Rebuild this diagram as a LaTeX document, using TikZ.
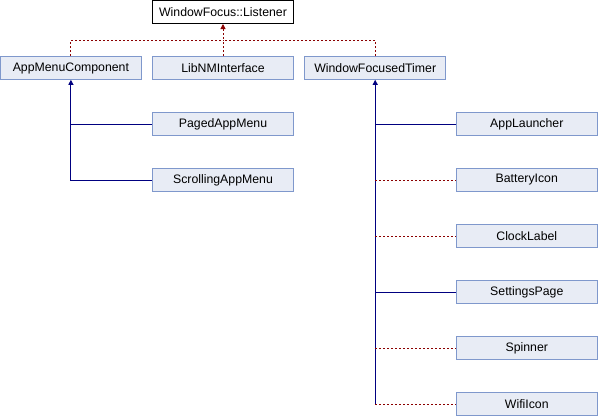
\documentclass[tikz,border=0pt]{standalone}
\usepackage{fontspec}
\setmainfont{Liberation Sans}
\usetikzlibrary{arrows.meta}
\definecolor{boxfill}{HTML}{E8ECF5}
\definecolor{boxline}{HTML}{7F98CC}
\definecolor{pubcol}{HTML}{000080}
\definecolor{privcol}{HTML}{8B0000}
\tikzset{
  cls/.style={draw=boxline, fill=boxfill, line width=1pt, minimum width=141.4pt, minimum height=22.6pt, inner sep=0pt, font=\fontsize{12.3}{14}\selectfont},
  rootcls/.style={cls, draw=black, fill=white},
  pub/.style={draw=pubcol, line width=1pt},
  priv/.style={draw=privcol, line width=1pt, dash pattern=on 2pt off 2pt},
  pubtip/.style={{Triangle[width=5pt,length=5pt,fill=pubcol]}-},
  privtip/.style={{Triangle[width=5pt,length=5pt,fill=privcol]}-}
}
\begin{document}
\begin{tikzpicture}[x=1pt,y=-1pt]
\useasboundingbox (0,0) rectangle (598,416);
\node[rootcls] (L) at (223,12.2) {WindowFocus::Listener};
\node[cls] (amc) at (70.9,68) {AppMenuComponent};
\node[cls] (lni) at (223,68) {LibNMInterface};
\node[cls] (wft) at (375.2,68) {WindowFocusedTimer};
\node[cls] (pam) at (223,124) {PagedAppMenu};
\node[cls] (sam) at (223,180) {ScrollingAppMenu};
\node[cls] (al) at (526.8,124) {AppLauncher};
\node[cls] (bi) at (526.8,180) {BatteryIcon};
\node[cls] (cl) at (526.8,236) {ClockLabel};
\node[cls] (sp) at (526.8,292) {SettingsPage};
\node[cls] (spin) at (526.8,348) {Spinner};
\node[cls] (wi) at (526.8,404) {WifiIcon};
\coordinate (j) at (223,40.3);
% private inheritance from WindowFocus::Listener
\draw[priv] (amc.north) |- (j);
\draw[priv] (wft.north) |- (j);
\draw[priv] (lni.north) -- (j);
\draw[priv,privtip] (L.south) -- (j);
% AppMenuComponent children
\draw[pub,pubtip] (amc.south) -- (amc.south |- sam.west) -- (sam.west);
\draw[pub] (amc.south |- pam.west) -- (pam.west);
% WindowFocusedTimer children
\draw[pub,pubtip] (wft.south) -- (wft.south |- wi.west);
\draw[pub] (wft.south |- al.west) -- (al.west);
\draw[pub] (wft.south |- sp.west) -- (sp.west);
\draw[priv] (wft.south |- bi.west) -- (bi.west);
\draw[priv] (wft.south |- cl.west) -- (cl.west);
\draw[priv] (wft.south |- spin.west) -- (spin.west);
\draw[priv] (wft.south |- wi.west) -- (wi.west);
\end{tikzpicture}
\end{document}
